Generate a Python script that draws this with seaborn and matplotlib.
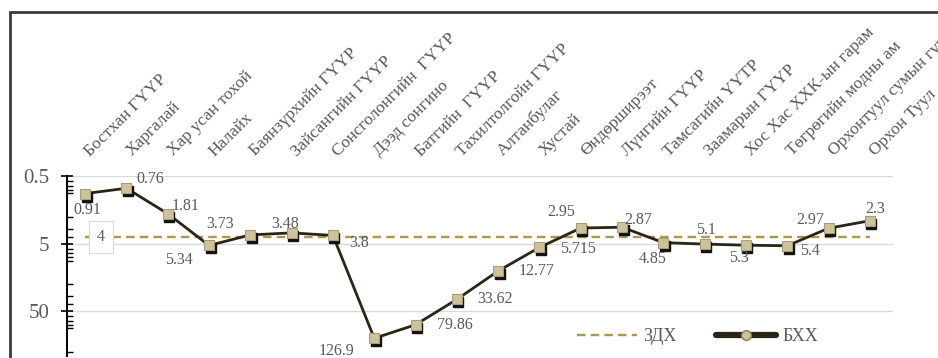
import matplotlib
matplotlib.use("Agg")
import matplotlib.pyplot as plt
from matplotlib.lines import Line2D
from matplotlib.patches import Rectangle
from matplotlib.ticker import FixedLocator, NullFormatter, LogLocator
from matplotlib.transforms import offset_copy, ScaledTranslation
import pandas as pd
import seaborn as sns

# Monitoring sites along the river, upstream to downstream
sites = [
    "Бостхан ГҮҮР", "Харгалай", "Хар усан тохой", "Налайх",
    "Баянзүрхийн ГҮҮР", "Зайсангийн ГҮҮР", "Сонсголонгийн  ГҮҮР",
    "Дээд сонгино", "Батгийн  ГҮҮР", "Тахилтолгойн ГҮҮР", "Алтанбулаг",
    "Хустай", "Өндөрширээт", "Лүнгийн ГҮҮР", "Тамсагийн ҮҮТР",
    "Заамарын ГҮҮР", "Хос Хас ХХК-ын гарам", "Төгрөгийн модны ам",
    "Орхонтуул сумын гүүр", "Орхон Туул",
]
# Measured values (БХХ)
bkh = [0.91, 0.76, 1.81, 5.34, 3.73, 3.48, 3.8, 126.9, 79.86, 33.62,
       12.77, 5.715, 2.95, 2.87, 4.85, 5.1, 5.3, 5.4, 2.97, 2.3]
# Permissible level (ЗДХ)
zdkh = [4, 4, 4, 4, 4, 4, 4, 4, 4, 4, 4, 4, 4, 4, 4, 4, 4, 4, 4, 4]
y_ticks = [0.5, 5, 50]
y_tick_labels = ["0.5", "5", "50"]

# label placement (pixels from the marker)
label_offsets = [(2, -16), (24, 9), (18, 8), (-30, -15), (-30, 11), (-7, 9),
                 (26, -8), (-38, -13), (39, 0), (38, 0), (38, 0), (39, -2),
                 (-20, 16), (16, 7), (-11, -16), (1, 14), (-7, -13), (23, -5),
                 (-18, 8), (5, 12)]

df = pd.DataFrame({"site": sites, "БХХ": bkh, "ЗДХ": zdkh})

sns.set_style("white")
plt.rcParams["font.family"] = ["Liberation Serif", "DejaVu Serif"]

W, H = 938, 358
fig = plt.figure(figsize=(W / 100, H / 100), dpi=100)
ax = fig.add_axes([67 / W, 1 - 356 / H, (893 - 67) / W, (356 - 176) / H])

grey = "#595959"
line_col = "#2b2517"
face_col = "#cdc39b"
dash_col = "#a8994f"

# permissible level, dashed
sns.lineplot(data=df, x="site", y="ЗДХ", ax=ax, sort=False, color=dash_col,
             linestyle=(0, (3.6, 2.2)), linewidth=1.7, zorder=2)
# measured series
sns.lineplot(data=df, x="site", y="БХХ", ax=ax, sort=False, color=line_col,
             linewidth=2.0, zorder=3)
xs = list(range(len(sites)))
shadow = offset_copy(ax.transData, fig=fig, x=1.5, y=-3, units="dots")
ax.plot(xs, bkh, linestyle="none", marker="s", markersize=7.5,
        markerfacecolor="#111111", markeredgecolor="#111111",
        transform=shadow, zorder=4)
ax.plot(xs, bkh, linestyle="none", marker="s", markersize=7.5,
        markerfacecolor=face_col, markeredgecolor="#a79d77",
        markeredgewidth=0.8, zorder=5)

ax.set_yscale("log")
ax.set_ylim(232, 0.5)
ax.set_xlim(-0.44, len(sites) - 0.44)

ax.yaxis.set_major_locator(FixedLocator(y_ticks))
ax.set_yticklabels(y_tick_labels)
ax.yaxis.set_minor_locator(LogLocator(base=10, subs=range(2, 10)))
ax.yaxis.set_minor_formatter(NullFormatter())
ax.tick_params(axis="y", which="major", direction="inout", length=9,
               width=1.2, color="black", labelsize=15, labelcolor=grey, pad=8,
               left=True)
ax.tick_params(axis="y", which="minor", direction="in", length=4,
               width=1.0, color="black", left=True)

ax.grid(True, axis="y", which="major", color="#d9d9d9", linewidth=1.0)
ax.set_axisbelow(True)

ax.xaxis.tick_top()
ax.set_xticks(xs)
ax.set_xticklabels(sites, rotation=45, ha="left", va="bottom",
                   rotation_mode="anchor")
ax.tick_params(axis="x", which="both", length=0, labelsize=12.5,
               labelcolor=grey, pad=12, top=False, bottom=False)
shift = ScaledTranslation(8 / 100, 0, fig.dpi_scale_trans)
for lab in ax.get_xticklabels():
    lab.set_transform(lab.get_transform() + shift)
ax.set_xlabel("")
ax.set_ylabel("")

for s in ("top", "right", "bottom"):
    ax.spines[s].set_visible(False)
ax.spines["left"].set_color("black")
ax.spines["left"].set_linewidth(1.4)

# value labels
for i, (v, (dx, dy)) in enumerate(zip(bkh, label_offsets)):
    ax.annotate(str(v), xy=(i, v), xytext=(dx, dy), textcoords="offset pixels",
                ha="center", va="center", fontsize=11.5, color=grey, zorder=6)

# permissible level tag
ax.annotate(str(zdkh[0]), xy=(0, zdkh[0]), xytext=(16, 0),
            textcoords="offset pixels", ha="center", va="center",
            fontsize=11.5, color=grey, zorder=6,
            bbox=dict(boxstyle="square,pad=0.5", facecolor="white",
                      edgecolor="#d9d9d9", linewidth=0.8))

handles = [
    Line2D([], [], color=dash_col, linestyle=(0, (3.6, 2.2)), linewidth=1.7),
    Line2D([], [], color=line_col, linewidth=4.5, marker="o", markersize=7,
           markerfacecolor=face_col, markeredgecolor="#8a805c"),
]
ax.legend(handles, ["ЗДХ", "БХХ"], loc="center left",
          bbox_to_anchor=(0.598, 0.106), ncol=2, frameon=False,
          handlelength=3.3, columnspacing=2.2, handletextpad=0.35,
          prop={"size": 13}, labelcolor=grey)

# outer chart frame
fig.patches.append(Rectangle((10 / W, -0.2), 1.2, 1 - 12 / H + 0.2,
                             transform=fig.transFigure, fill=False,
                             edgecolor="#3a3a3a", linewidth=2.0, zorder=0))

fig.savefig("out.png", dpi=100)
